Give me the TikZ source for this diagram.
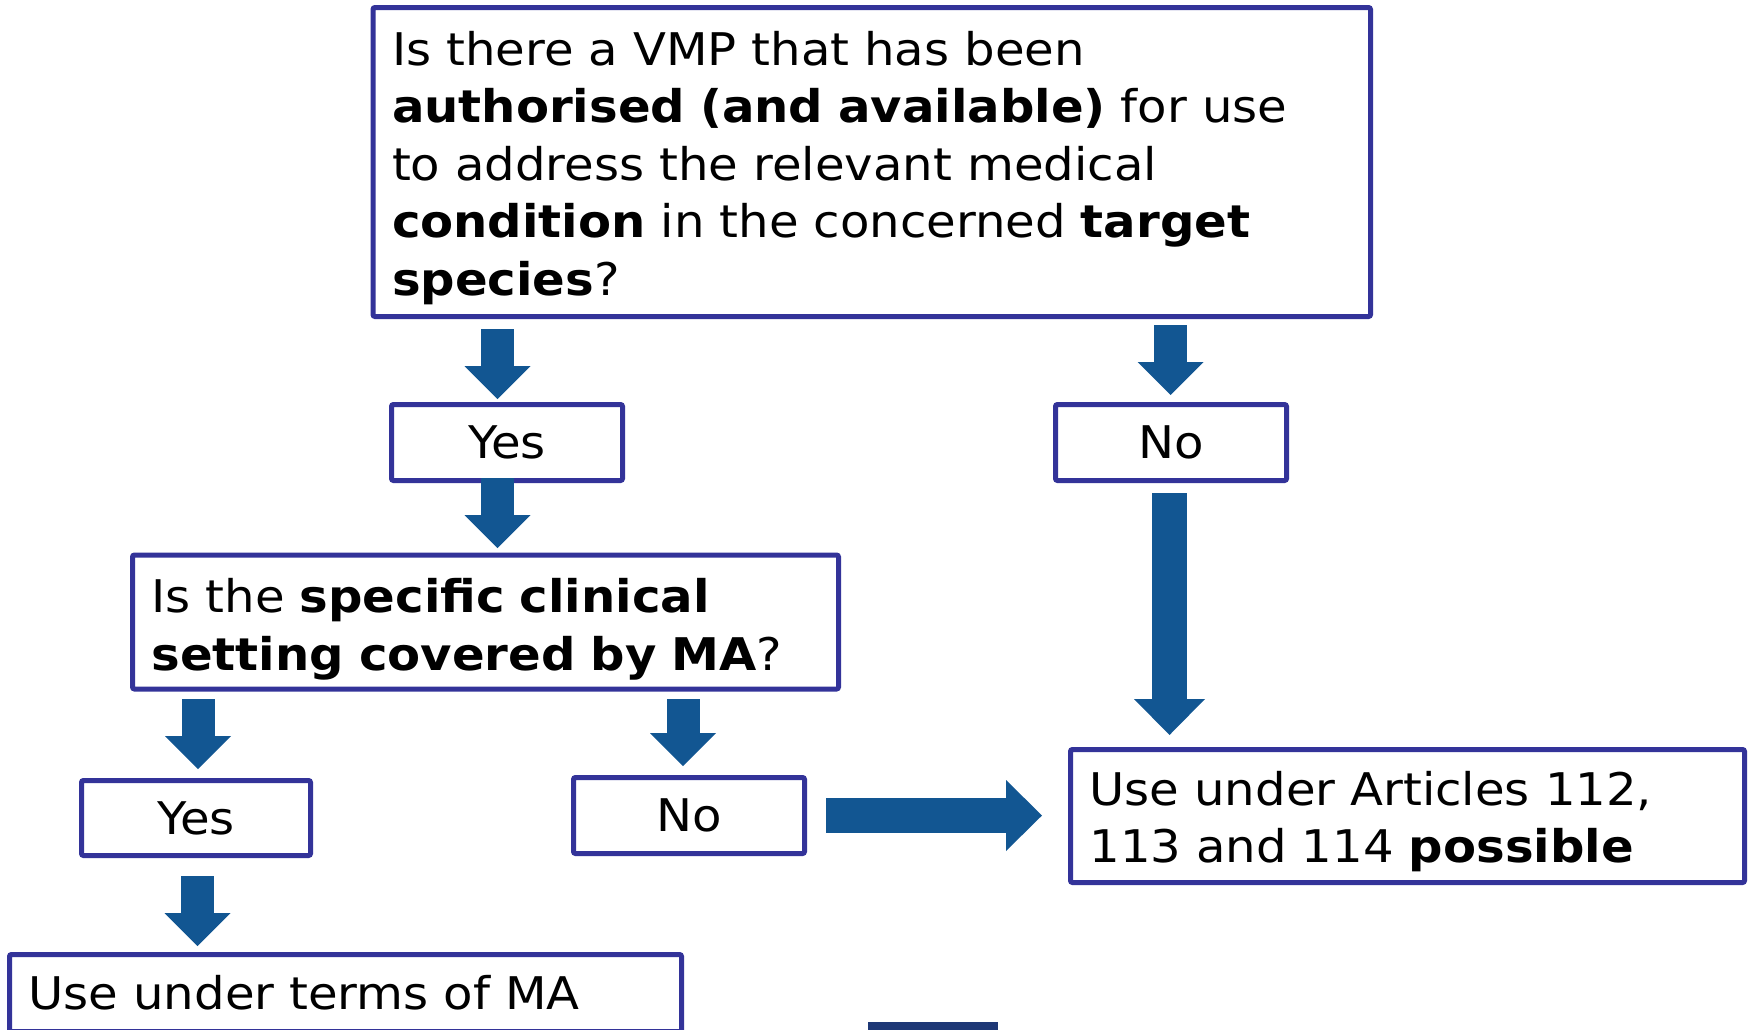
\documentclass[tikz,border=0pt]{standalone}
\usepackage{fontspec}
\setmainfont[FakeStretch=1.07]{DejaVu Sans}
\usetikzlibrary{arrows.meta}
\usetikzlibrary{calc}

\definecolor{boxblue}{RGB}{51,51,153}
\definecolor{arrowblue}{RGB}{18,86,146}
\definecolor{barblue}{RGB}{30,56,118}

\begin{document}
\begin{tikzpicture}[x=1pt,y=-1pt,
  qbox/.style={draw=boxblue, line width=5pt, rounded corners=2pt, outer sep=0pt,
    inner xsep=19pt, inner ysep=0pt, font=\fontsize{45pt}{57.5pt}\selectfont},
  textbox/.style={qbox, align=left, text width=#1},
  answerbox/.style={qbox, minimum width=231pt, minimum height=76pt},
  blockarrow/.style={draw=arrowblue, line width=33pt,
    -{Triangle[width=66pt,length=33pt,line width=0pt]}},
  bigarrow/.style={draw=arrowblue, line width=35pt,
    -{Triangle[width=71pt,length=36pt,line width=0pt]}}]
\useasboundingbox (0,0) rectangle (1750,1029);

\node[textbox=959.5pt, minimum height=309pt] (top) at (871.75,162)
  {\rule{0pt}{45.4pt}Is there a VMP that has been\\
   \textbf{authorised (and available)} for use\\
   to address the relevant medical\\
   \textbf{condition} in the concerned \textbf{target}\\
   \textbf{species}?};
\node[answerbox] (yes1) at (507,442.5) {Yes};
\node[answerbox] (no1) at (1171,442.5) {No};
\node[textbox=668pt, minimum height=134pt] (clin) at (485.5,622)
  {\rule{0pt}{49pt}Is the \textbf{specific clinical}\\
   \textbf{setting covered by MA}?};
\node[answerbox, minimum width=229pt, minimum height=75pt] (yes2) at (196,818) {Yes};
\node[answerbox] (no2) at (689,815.5) {No};
\node[textbox=636pt, minimum height=133pt] (art) at (1407.5,816)
  {\rule{0pt}{45pt}Use under Articles 112,\\
   113 and 114 \textbf{possible}};
\node[textbox=634pt, minimum height=77pt] (ma) at (345.5,993)
  {Use under terms of MA};

\draw[blockarrow] ($(top.south -| yes1.north)+(-9.5,12.5)$) -- ($(yes1.north)+(-9.5,-5.5)$);
\draw[blockarrow] ($(yes1.south)+(-9.5,-2.5)$) -- ($(clin.north -| yes1.south)+(-9.5,-7)$);
\draw[blockarrow] ($(top.south -| no1.north)+(-0.5,8.5)$) -- ($(no1.north)+(-0.5,-9.5)$);
\draw[bigarrow] ($(no1.south)+(-1.5,12.5)$) -- ($(art.north -| no1.south)+(-1.5,-14.5)$);
\draw[blockarrow] ($(clin.south -| yes2.north)+(2,10)$) -- ($(yes2.north)+(2,-11.5)$);
\draw[blockarrow] ($(clin.south -| no2.north)+(-6,10)$) -- ($(no2.north)+(-6,-11.5)$);
\draw[bigarrow] ($(no2.east)+(21.5,0)$) -- ($(no2.east -| art.west)+(-28.5,0)$);
\draw[blockarrow] ($(yes2.south)+(1.5,20.5)$) -- ($(ma.north -| yes2.south)+(1.5,-8.5)$);

\fill[barblue] (868,1022) rectangle (998,1040);
\end{tikzpicture}
\end{document}
